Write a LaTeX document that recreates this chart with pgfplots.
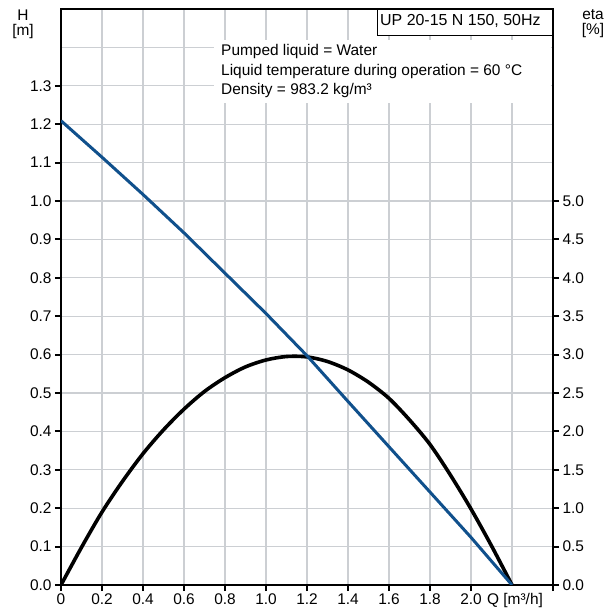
\documentclass[border=0pt]{standalone}
\usepackage{fontspec}
\setmainfont{Liberation Sans}
\usepackage{pgfplots}
\pgfplotsset{compat=1.18}
\definecolor{hblue}{RGB}{16,80,140}
\definecolor{gridgray}{RGB}{204,207,211}
\newcommand{\tfont}{\fontsize{15.5}{18}\selectfont}
\newcommand{\hfont}{\fontsize{16}{19}\selectfont}

\pgfplotsset{
  base/.style={
    scale only axis, width=492bp, height=576bp,
    at={(61bp,28bp)}, anchor=south west,
    xmin=0, xmax=2.4,
    /pgf/number format/assume math mode=true,
    ticklabel style={font=\tfont},
    tick align=outside, major tick length=6bp,
    tick style={line width=2bp, black},
    axis line style={-, line width=2.6bp},
  },
}

\begin{document}
\begin{tikzpicture}
\useasboundingbox[fill=white] (0,0) rectangle (614bp,613bp);

% H axis: frame, grid, left and bottom ticks
\begin{axis}[base, ymin=0, ymax=1.5,
  xtick={0,0.2,0.4,0.6,0.8,1.0,1.2,1.4,1.6,1.8,2.0,2.4},
  xticklabels={0,0.2,0.4,0.6,0.8,1.0,1.2,1.4,1.6,1.8,2.0,{}},
  minor xtick={2.2},
  ytick={0,0.1,0.2,0.3,0.4,0.5,0.6,0.7,0.8,0.9,1.0,1.1,1.2,1.3},
  minor ytick={1.4},
  xtick pos=left, ytick pos=left,
  minor tick length=0pt,
  grid=both,
  major grid style={gridgray, line width=1.2bp},
  minor grid style={gridgray, line width=1.2bp},
  yticklabel style={/pgf/number format/.cd, fixed, fixed zerofill, precision=1},
  xticklabel style={anchor=base, yshift=-13bp},
]
\fill[white] (axis cs:0.745,1.256) rectangle (axis cs:2.39,1.42);
\end{axis}

% eta axis
\begin{axis}[base, ymin=0, ymax=7.5,
  axis x line=none, axis y line*=right,
  ytick={0,0.5,1.0,1.5,2.0,2.5,3.0,3.5,4.0,4.5,5.0},
  yticklabel style={/pgf/number format/.cd, fixed, fixed zerofill, precision=1},
]
\addplot[black, line width=3.6bp, smooth] coordinates {
  (0,0) (0.1,0.49) (0.2,0.95) (0.3,1.35) (0.4,1.71) (0.5,2.02)
  (0.6,2.29) (0.7,2.52) (0.8,2.70) (0.9,2.84) (1.0,2.93) (1.1,2.975)
  (1.2,2.97) (1.3,2.91) (1.4,2.80) (1.5,2.64) (1.6,2.43)
  (1.7,2.15) (1.8,1.83) (1.9,1.43) (2.0,0.99) (2.1,0.51) (2.2,0)
};
\end{axis}

% H curve on top
\begin{axis}[base, ymin=0, ymax=1.5, hide axis]
\addplot[hblue, line width=3bp] coordinates {
  (0,1.209) (0.2,1.114) (0.4,1.017) (0.6,0.917) (0.8,0.812) (1.0,0.707)
  (1.2,0.597) (1.4,0.478) (1.6,0.360) (1.8,0.242) (2.0,0.124) (2.2,0)
};
\end{axis}

% title box
\fill[white] (377bp,577bp) rectangle (551.7bp,602.7bp);
\draw[line width=1bp] (377bp,603bp) -- (377bp,577bp) -- (552bp,577bp);
\node[anchor=base west, font=\hfont, inner sep=0pt] at (380bp,587bp) {UP 20-15 N 150, 50Hz};

% liquid info
\node[anchor=base west, font=\tfont, inner sep=0pt] at (221bp,557bp) {Pumped liquid = Water};
\node[anchor=base west, font=\tfont, inner sep=0pt] at (221bp,537.5bp) {Liquid temperature during operation = 60 °C};
\node[anchor=base west, font=\tfont, inner sep=0pt] at (221bp,518.5bp) {Density = 983.2 kg/m³};

% axis titles
\node[anchor=base, font=\tfont, inner sep=0pt] at (23bp,592bp) {H};
\node[anchor=base, font=\tfont, inner sep=0pt] at (23bp,577bp) {[m]};
\node[anchor=base, font=\tfont, inner sep=0pt] at (593bp,593bp) {eta};
\node[anchor=base, font=\tfont, inner sep=0pt] at (593bp,578bp) {[\%]};
\node[anchor=base, font=\tfont, inner sep=0pt] at (515bp,9bp) {Q [m³/h]};
\end{tikzpicture}
\end{document}
